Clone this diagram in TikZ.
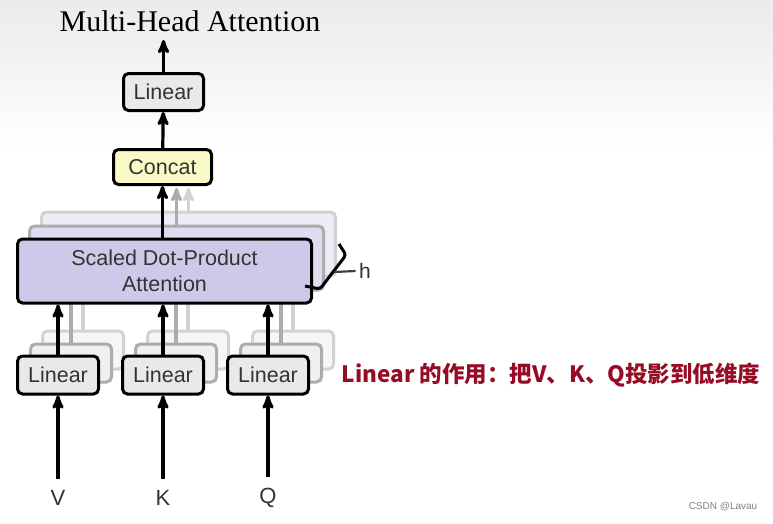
\documentclass[tikz,border=0pt]{standalone}
\usepackage{fontspec}
\setsansfont{Liberation Sans}
\newfontfamily\titlefont{Liberation Serif}
\newfontfamily\cjk{Noto Sans CJK SC}
\usetikzlibrary{positioning, arrows}
\definecolor{boxgray}{RGB}{232,234,232}
\definecolor{concatyellow}{RGB}{250,250,198}
\definecolor{attpurple}{RGB}{206,201,233}
\definecolor{notered}{RGB}{150,12,36}
\tikzset{
x=1pt, y=-1pt, % pixel-like coordinates, origin at the top left
>=stealth', % bold arrow heads
block/.style={draw, rounded corners=5pt, line width=3pt, text=black!80,
  font=\sffamily\fontsize{21.5}{26}\selectfont}, % every box
linbox/.style={block, fill=boxgray, minimum width=81pt, minimum height=38pt},
attbox/.style={block, fill=attpurple, minimum width=294pt, minimum height=64pt, align=center},
flow/.style={->, line width=3.2pt}, % the arrows between boxes
}
\begin{document}
\begin{tikzpicture}
\useasboundingbox (0,0) rectangle (773,523);
\shade[top color=black!8, bottom color=white] (0,0) rectangle (773,150);

\node[font=\titlefont\fontsize{30}{32}\selectfont] (title) at (190,21) {Multi-Head Attention};

% the h heads, back copies first
\node[attbox, fill=attpurple!35, draw=gray!35] (attC) at (188.5,244) {};
\node[attbox, fill=attpurple!65, draw=gray!65] (attB) at (176.5,258) {};
\draw[flow, gray!35] (attC.north) -- (attC.north |- 0,188);
\draw[flow, gray!65] (attB.north) -- (attB.north |- 0,188);

\foreach \n/\x in {V/58, K/163, Q/268}{
  \node[linbox, fill=boxgray!45, draw=gray!35] (lin\n c) at (\x+25,350) {};
  \node[linbox, fill=boxgray!70, draw=gray!65] (lin\n b) at (\x+13,363) {};
  \draw[flow, gray!35] (lin\n c.north) -- (lin\n c.north |- attC.south);
  \draw[flow, gray!65] (lin\n b.north) -- (lin\n b.north |- attB.south);
}

\node[attbox] (att) at (164.5,271) {Scaled Dot-Product\\Attention};
\node[block, fill=concatyellow, minimum width=98pt, minimum height=35pt] (concat) at (162.5,167) {Concat};
\node[linbox, minimum width=80pt, minimum height=37pt] (lin) at (163.5,92) {Linear};
\coordinate (out) at (163.5,40);

\draw[flow] (concat.south |- att.north) -- (concat.south);
\draw[flow] (concat) -- (lin);
\draw[flow] (lin) -- (out);

\foreach \n/\x in {V/58, K/163, Q/268}{
  \node[linbox] (lin\n) at (\x,375) {Linear};
  \node[font=\sffamily\fontsize{22}{24}\selectfont, text=black!80] (in\n) at (\x,498) {\n};
  \draw[flow] (lin\n) -- (lin\n |- att.south);
  \draw[flow] ([yshift=8pt]in\n.north) -- (lin\n);
}

% the h bracket
\draw[line width=3pt, rounded corners=3pt] (339,244) -- (346,255) -- (320,289) -- (305,286);
\node[font=\sffamily\fontsize{21}{24}\selectfont, text=black!80] (hlabel) at (365,271) {h};
\coordinate (hbr) at (334,272);
\draw[line width=2.2pt, black!75] (hbr) -- (hlabel.west);

\node[text=notered, font=\cjk\bfseries\fontsize{22.5}{26}\selectfont] (note) at (551,375)
  {Linear 的作用：把V、K、Q投影到低维度};
\node[text=gray, font=\sffamily\fontsize{10}{12}\selectfont] (mark) at (723,507) {CSDN @Lavau};
\end{tikzpicture}
\end{document}
